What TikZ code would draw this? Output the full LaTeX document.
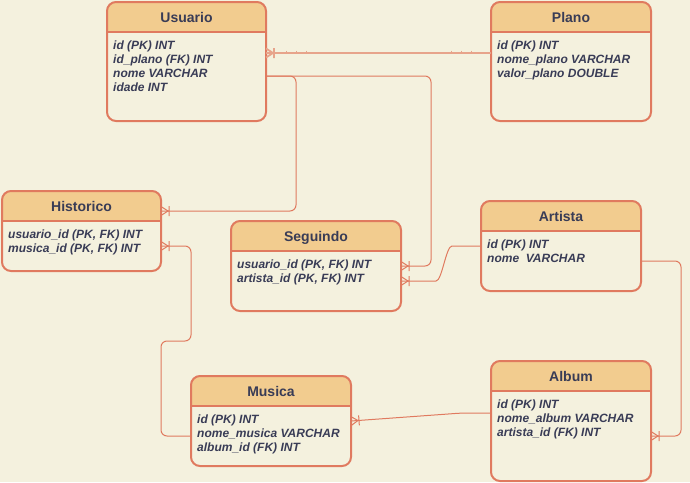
\documentclass[tikz,border=0pt]{standalone}
\usepackage{fontspec}
\setmainfont{Liberation Sans}
\usetikzlibrary{arrows.meta,calc}
\definecolor{bgc}{HTML}{F4F1DE}
\definecolor{hdrc}{HTML}{F2CC8F}
\definecolor{strk}{HTML}{E07A5F}
\definecolor{txtc}{HTML}{393C56}

\pgfdeclarearrow{
  name = Crow,
  setup code = {
    \pgfarrowssettipend{0pt}
    \pgfarrowssetlineend{0pt}
    \pgfarrowssetbackend{-9pt}
    \pgfarrowshullpoint{0pt}{5pt}
    \pgfarrowshullpoint{0pt}{-5pt}
    \pgfarrowshullpoint{-9pt}{5pt}
    \pgfarrowshullpoint{-9pt}{-5pt}
  },
  drawing code = {
    \pgfsetdash{}{0pt}
    \pgfpathmoveto{\pgfqpoint{0pt}{4.5pt}}
    \pgfpathlineto{\pgfqpoint{-7pt}{0pt}}
    \pgfpathlineto{\pgfqpoint{0pt}{-4.5pt}}
    \pgfpathmoveto{\pgfqpoint{-8pt}{5pt}}
    \pgfpathlineto{\pgfqpoint{-8pt}{-5pt}}
    \pgfusepathqstroke
  }
}

\tikzset{
  ebox/.style={draw=strk, line width=2pt, rounded corners=9pt, inner sep=0pt, outer sep=0pt},
  eline/.style={draw=strk, line width=2pt},
  ttl/.style={text=txtc, font=\fontsize{14}{16}\selectfont\bfseries, inner sep=0pt, anchor=base},
  bodytext/.style={text=txtc, font=\fontsize{12}{14}\selectfont\bfseries\itshape, align=left, inner sep=0pt, anchor=north west},
  rel/.style={draw=strk, line width=1pt, rounded corners=6pt},
  relsoft/.style={draw=strk!65!bgc, line width=1.8pt},
}

\newcommand\erentity[7]{%
  \begin{scope}
    \clip[rounded corners=9pt] (#2,#3) rectangle ++(#4,#5);
    \fill[hdrc] (#2,#3) rectangle ++(#4,30);
  \end{scope}
  \node[ebox, minimum width=#4pt, minimum height=#5pt, anchor=north west] (#1) at (#2,#3) {};
  \draw[eline] ($(#1.north west)+(0,30)$) -- ($(#1.north east)+(0,30)$);
  \node[ttl] (#1-title) at ($(#1.north)+(0,20)$) {#6};
  \node[bodytext] (#1-body) at ($(#1.north west)+(6,38.5)$) {#7};
}

\begin{document}
\begin{tikzpicture}[x=1pt,y=-1pt]
\fill[bgc] (0,0) rectangle (690,482);
\useasboundingbox (0,0) rectangle (690,482);

\erentity{usuario}{107}{2}{159}{119}{Usuario}{id (PK) INT\\id\_plano (FK) INT\\nome VARCHAR\\idade INT}
\erentity{plano}{491}{2}{160}{119}{Plano}{id (PK) INT\\nome\_plano VARCHAR\\valor\_plano DOUBLE}
\erentity{historico}{2}{191}{159}{80}{Historico}{usuario\_id (PK, FK) INT\\musica\_id (PK, FK) INT}
\erentity{seguindo}{231}{221}{170}{90}{Seguindo}{usuario\_id (PK, FK) INT\\artista\_id (PK, FK) INT}
\erentity{artista}{481}{201}{160}{90}{Artista}{id (PK) INT\\nome\ \ VARCHAR}
\erentity{musica}{191}{376}{160}{90}{Musica}{id (PK) INT\\nome\_musica VARCHAR\\album\_id (FK) INT}
\erentity{album}{491}{361}{160}{120}{Album}{id (PK) INT\\nome\_album VARCHAR\\artista\_id (FK) INT}

% Plano -> Usuario
\draw[relsoft, -Crow] ($(plano.north west)+(0,51)$) -- ($(usuario.north east)+(0,51)$);
\foreach \tx in {286,296.5,306.5,451.5,461.5,471.5}
  \draw[strk!65!bgc, line width=1pt] (\tx,50.5) -- (\tx,53);

% Usuario -> Historico
\draw[rel, -Crow] ($(usuario.north east)+(0,74)$) -- (296,76) -- (296,211) -- ($(historico.north east)+(0,20)$);
% Usuario -> Seguindo
\draw[rel, -Crow] ($(usuario.north east)+(0,74)$) -- (431,76) -- (431,266) -- ($(seguindo.north east)+(0,45)$);
% Artista -> Seguindo
\draw[rel, -Crow] ($(artista.north west)+(0,45)$) -- (458,246) .. controls (446,246) and (442,281) .. (430,281) -- ($(seguindo.north east)+(0,60)$);
% Musica -> Historico
\draw[rel, -Crow] ($(musica.north west)+(0,60)$) -- (161,436) -- (161,341) -- (191,341) -- (191,246) -- ($(historico.north east)+(0,55)$);
% Album -> Musica
\draw[rel, -Crow] ($(album.north west)+(0,52)$) -- (462,413) -- ($(musica.north east)+(0,45)$);
% Artista -> Album
\draw[rel, -Crow] ($(artista.north east)+(0,60)$) -- (681,261) -- (681,436) -- ($(album.north east)+(0,75)$);
\end{tikzpicture}
\end{document}
